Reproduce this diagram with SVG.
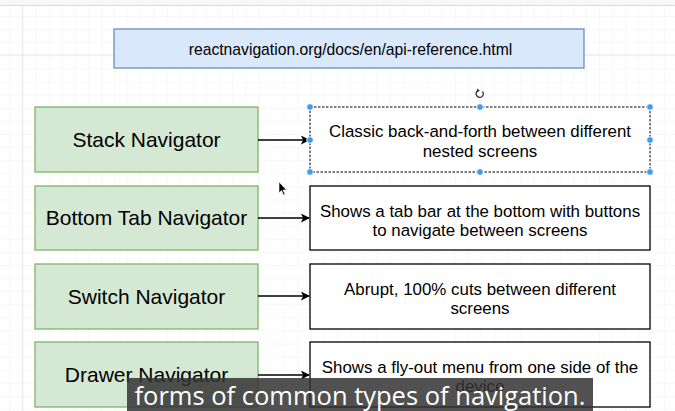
<svg xmlns="http://www.w3.org/2000/svg" width="675" height="411" viewBox="0 0 675 411">
<style>
.nav{fill:#d5e8d4;stroke:#82b366;stroke-width:1.3}
.desc{fill:#ffffff;stroke:#000000;stroke-width:1.3}
.navt{font-family:"Liberation Sans",Arial,sans-serif;font-size:21px;fill:#000;text-anchor:middle}
.dt{font-family:"Liberation Sans",Arial,sans-serif;font-size:16.9px;fill:#000;text-anchor:middle}
.conn{stroke:#000;stroke-width:1.3;fill:none}
.hdl{fill:#3d9cf0;stroke:#ffffff;stroke-width:0.8}
</style>
<defs>
<pattern id="grid" x="9.5" y="3" width="13.1" height="13.1" patternUnits="userSpaceOnUse">
<path d="M0 0V13.1M0 0H13.1" stroke="#f0f0f0" stroke-width="1" fill="none"/>
</pattern>
<marker id="arr" viewBox="0 0 10 10" refX="9" refY="5" markerWidth="9" markerHeight="9" markerUnits="userSpaceOnUse" orient="auto">
<path d="M0 0L10 5L0 10L2.5 5Z" fill="#000"/>
</marker>
</defs>
<rect width="675" height="411" fill="#ffffff"/>
<rect width="675" height="411" fill="url(#grid)"/>
<line x1="22.3" y1="5" x2="22.3" y2="411" stroke="#e6e6e6"/>
<line x1="0" y1="55" x2="675" y2="55" stroke="#e6e6e6"/>
<rect x="0" y="0" width="675" height="5" fill="#f7f7f9"/>
<line x1="0" y1="5.5" x2="675" y2="5.5" stroke="#dcdcdc"/>

<g id="url">
<rect x="114" y="29" width="470" height="39" fill="#dae8fc" stroke="#6c8ebf" stroke-width="1.3"/>
<text x="350.5" y="54.5" class="dt" style="font-size:15.7px">reactnavigation.org/docs/en/api-reference.html</text>
</g>

<g id="stack">
<rect class="nav" x="35" y="107" width="223" height="65"/>
<text class="navt" x="146.5" y="147">Stack Navigator</text>
</g>
<g id="bottomtab">
<rect class="nav" x="35" y="186" width="223" height="64"/>
<text class="navt" x="146.5" y="225">Bottom Tab Navigator</text>
</g>
<g id="switch">
<rect class="nav" x="35" y="264" width="223" height="65"/>
<text class="navt" x="146.5" y="304">Switch Navigator</text>
</g>
<g id="drawer">
<rect class="nav" x="35" y="342" width="223" height="65"/>
<text class="navt" x="146.5" y="382">Drawer Navigator</text>
</g>

<g id="stack-desc">
<rect x="310" y="107" width="340" height="65" fill="#fff" stroke="#000" stroke-width="1" stroke-dasharray="2.5 1.5"/>
<text class="dt" x="480" y="137">Classic back-and-forth between different</text>
<text class="dt" x="480" y="157">nested screens</text>
</g>
<g id="bottomtab-desc">
<rect class="desc" x="310" y="186" width="340" height="64"/>
<text class="dt" x="480" y="217">Shows a tab bar at the bottom with buttons</text>
<text class="dt" x="480" y="236">to navigate between screens</text>
</g>
<g id="switch-desc">
<rect class="desc" x="310" y="264" width="340" height="65"/>
<text class="dt" x="480" y="295">Abrupt, 100% cuts between different</text>
<text class="dt" x="480" y="314">screens</text>
</g>
<g id="drawer-desc">
<rect class="desc" x="310" y="342" width="340" height="65"/>
<text class="dt" x="480" y="373">Shows a fly-out menu from one side of the</text>
<text class="dt" x="480" y="392">device</text>
</g>

<g id="connectors">
<line class="conn" x1="258" y1="140" x2="309" y2="140" marker-end="url(#arr)"/>
<line class="conn" x1="258" y1="218" x2="309" y2="218" marker-end="url(#arr)"/>
<line class="conn" x1="258" y1="296" x2="309" y2="296" marker-end="url(#arr)"/>
<line class="conn" x1="258" y1="375" x2="309" y2="375" marker-end="url(#arr)"/>
</g>

<g id="selection">
<circle class="hdl" cx="310" cy="107" r="3.3"/>
<circle class="hdl" cx="480" cy="107" r="3.3"/>
<circle class="hdl" cx="650" cy="107" r="3.3"/>
<circle class="hdl" cx="310" cy="140" r="3.3"/>
<circle class="hdl" cx="650" cy="140" r="3.3"/>
<circle class="hdl" cx="310" cy="172" r="3.3"/>
<circle class="hdl" cx="480" cy="172" r="3.3"/>
<circle class="hdl" cx="650" cy="172" r="3.3"/>
<path d="M482.5 91.5A3.6 3.6 0 1 1 478 90.6" fill="none" stroke="#333" stroke-width="1.3"/>
<path d="M477 88.6L479.8 90.6L477 92.6Z" fill="#333"/>
</g>

<g id="cursor">
<path d="M279 182L279 193L281.5 190.5L283.5 195L285 194.3L283 190L286.5 190Z" fill="#000" stroke="#fff" stroke-width="0.6"/>
</g>

<g id="subtitle">
<rect x="127" y="378" width="466" height="33" fill="#333333" fill-opacity="0.85"/>
<text x="360" y="405" font-family="'Open Sans','Noto Sans',sans-serif" font-size="25.5" fill="#ffffff" text-anchor="middle">forms of common types of navigation.</text>
</g>
</svg>
